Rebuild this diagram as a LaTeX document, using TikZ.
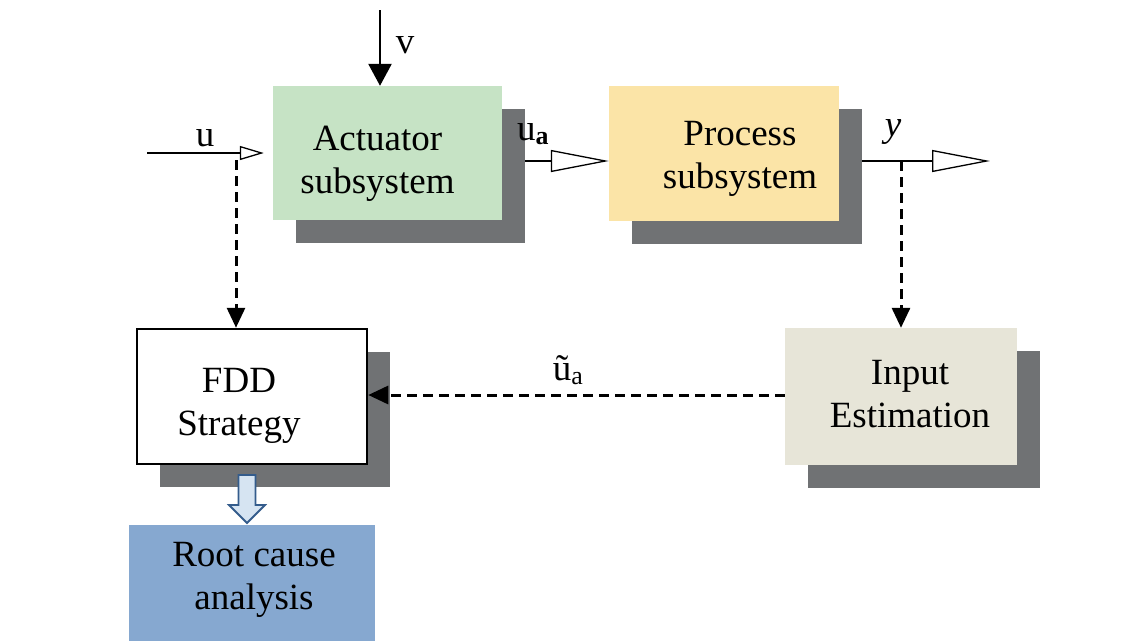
\documentclass[tikz,border=0pt]{standalone}
\usepackage{fontspec}
\setmainfont{Liberation Serif}
\usetikzlibrary{arrows.meta,shadows}
\definecolor{actgreen}{RGB}{198,227,197}
\definecolor{procyellow}{RGB}{251,228,167}
\definecolor{inpgray}{RGB}{231,229,216}
\definecolor{shadowgray}{RGB}{112,114,116}
\definecolor{rootblue}{RGB}{134,168,208}
\definecolor{arrowfill}{RGB}{214,228,242}
\definecolor{arrowedge}{RGB}{52,92,140}
\begin{document}
\begin{tikzpicture}[x=1pt,y=-1pt,
  txt/.style={font=\fontsize{37}{43}\selectfont, align=center, inner sep=0pt},
  lbl/.style={font=\fontsize{37}{43}\selectfont, inner sep=0pt},
  blockbox/.style={rectangle, inner sep=0pt,
    general shadow={fill=shadowgray, shadow xshift=23pt, shadow yshift=-23pt}},
  thinopen/.style={line width=1.3pt, -{Triangle[open, length=24pt, width=14pt, line width=1.3pt]}},
  bigopen/.style={line width=1.3pt, -{Triangle[open, length=58pt, width=22pt, line width=1.3pt]}},
  dasharrow/.style={line width=3pt, dash pattern=on 10pt off 6pt, -{Triangle[length=20pt, width=18pt]}},
  solidarrow/.style={line width=2.6pt, -{Triangle[length=22pt, width=23pt]}},
  blockarrow/.style={draw=arrowedge, fill=arrowfill, line width=1.8pt, line join=miter}
]
\fill[white] (0,0) rectangle (1143,643);
\useasboundingbox (0,0) rectangle (1143,643);

% boxes
\node[blockbox, fill=actgreen, minimum width=229pt, minimum height=134pt] (act) at (387.5,153) {};
\node[txt] (actt) at ([xshift=-10pt,yshift=-11pt]act.center) {Actuator\\subsystem};
\node[blockbox, fill=procyellow, minimum width=230pt, minimum height=135pt] (proc) at (724,153.5) {};
\node[txt] (proct) at ([xshift=16pt,yshift=-5pt]proc.center) {Process\\subsystem};
\node[blockbox, fill=white, draw=black, line width=2.5pt, minimum width=230pt, minimum height=135pt] (fdd) at (252,396.5) {};
\node[txt] (fddt) at ([xshift=-13pt,yshift=-9pt]fdd.center) {FDD\\Strategy};
\node[blockbox, fill=inpgray, minimum width=232pt, minimum height=137pt] (inp) at (901,396.5) {};
\node[txt] (inpt) at ([xshift=9pt,yshift=2pt]inp.center) {Input\\Estimation};
\node[rectangle, inner sep=0pt, fill=rootblue, minimum width=246pt, minimum height=116pt] (root) at (252,583) {};
\node[txt] (roott) at ([xshift=2pt,yshift=3pt]root.center) {Root cause\\analysis};

% block arrow FDD -> root cause
\coordinate (batop) at (247,475);
\draw[blockarrow] (batop) ++(-8.5,0) -- ++(0,30) -- ++(-9.5,0) -- ++(18,18) -- ++(18,-18) -- ++(-9.5,0) -- ++(0,-30) -- cycle;

% v input
\coordinate (vtop) at (380,10);
\draw[solidarrow] (vtop) -- (vtop |- act.north);
\node[lbl] (vlbl) at (405,45) {v};

% u input
\coordinate (ustart) at (147,153);
\draw[thinopen, shorten >=9pt] (ustart) -- (ustart -| act.west);
\node[lbl] (ulbl) at (205,138) {u};
\coordinate (utap) at (236,160);
\draw[dasharrow] (utap) -- (utap |- fdd.north);

% u_a
\draw[bigopen] ([xshift=23pt,yshift=-8pt]act.east) -- ([yshift=-7.5pt]proc.west);
\node[lbl] (ualbl) at (533,134) {u\textsubscript{\textbf{a}}};

% y output
\coordinate (yend) at (990,161);
\draw[bigopen] ([xshift=23pt,yshift=-7.5pt]proc.east) -- (yend);
\node[lbl] (ylbl) at (893,132) {\textit{y}};
\coordinate (ytap) at (901,161);
\draw[dasharrow] (ytap) -- (inp.north);

% estimated input
\draw[dasharrow] ([yshift=1.5pt]inp.west) -- ([yshift=1.5pt]fdd.east);
\node[lbl] (uelbl) at (568,370) {ũ\textsubscript{a}};
\end{tikzpicture}
\end{document}
